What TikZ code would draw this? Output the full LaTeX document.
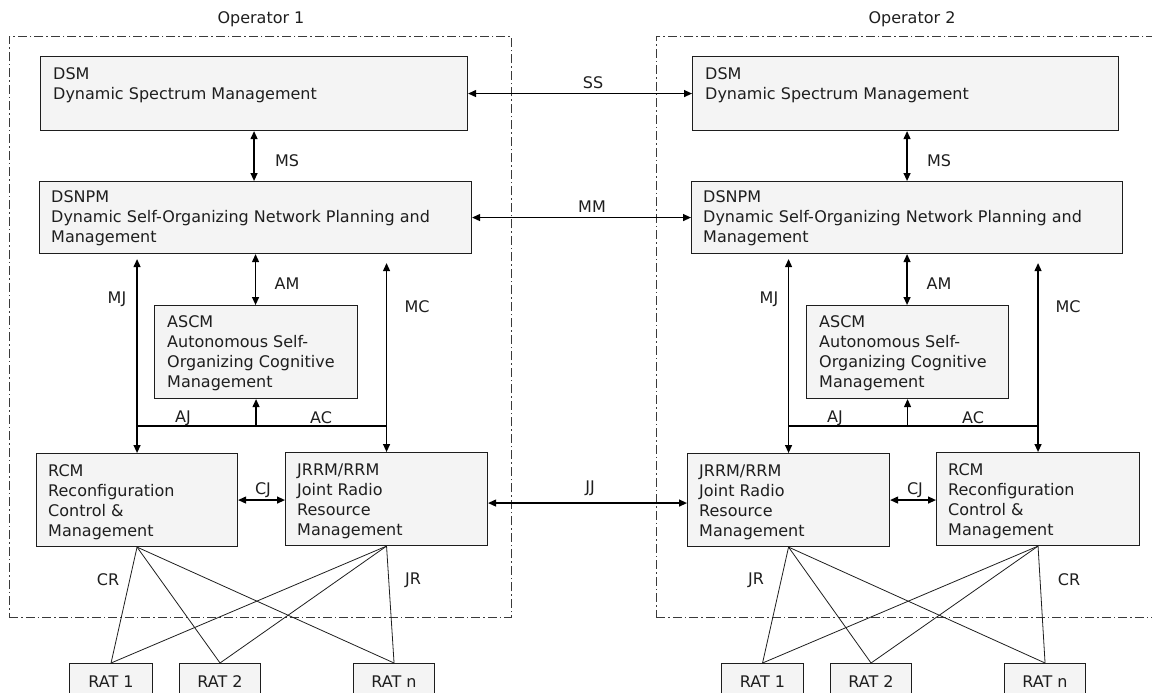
\documentclass[tikz,border=0pt]{standalone}
\usepackage{fontspec}
\setmainfont{DejaVu Sans}
\usetikzlibrary{arrows.meta,calc}
\definecolor{boxfill}{HTML}{F4F4F4}
\definecolor{ink}{HTML}{1E1E1E}
\definecolor{frame}{HTML}{3A3A3A}
\begin{document}
\begin{tikzpicture}[x=1pt,y=-1pt,
  every node/.style={font=\fontsize{16}{20}\selectfont, text=ink},
  box/.style={draw=ink, line width=1.1pt, fill=boxfill, inner sep=0pt, anchor=north west},
  ratbox/.style={box, minimum height=36pt},
  txt/.style={anchor=north west, inner sep=0pt, align=left},
  lab/.style={inner sep=0pt},
  con/.style={draw=black, line width=1.25pt},
  >={Triangle[length=8pt,width=7pt]},
  rl/.style={draw=ink, line width=0.8pt},
  opframe/.style={draw=frame, line width=0.9pt, dash pattern=on 9pt off 3pt on 1.5pt off 3pt, inner sep=0pt, anchor=north west}
]
\useasboundingbox (0,0) rectangle (1152,693);
\clip (0,0) rectangle (1152,693);

% operator frames
\node[opframe, minimum width=502pt, minimum height=581pt] (op1) at (9,36) {};
\node[opframe, minimum width=520pt, minimum height=581pt] (op2) at (656,36) {};
\node[lab] (op1l) at (261,19) {Operator 1};
\node[lab] (op2l) at (912,19) {Operator 2};

% operator 1 boxes
\node[box, minimum width=427pt, minimum height=74pt] (dsm1) at (40,56) {};
\node[box, minimum width=432pt, minimum height=72pt] (dsnpm1) at (39,181) {};
\node[box, minimum width=203pt, minimum height=93pt] (ascm1) at (154,305) {};
\node[box, minimum width=201pt, minimum height=93pt] (rcm1) at (36,453) {};
\node[box, minimum width=202pt, minimum height=93pt] (jrrm1) at (285,452) {};
\node[ratbox, minimum width=83pt] (rat1a) at (69,663) {RAT 1};
\node[ratbox, minimum width=81pt] (rat2a) at (179,663) {RAT 2};
\node[ratbox, minimum width=81pt] (ratna) at (353,663) {RAT n};

% operator 2 boxes
\node[box, minimum width=426pt, minimum height=74pt] (dsm2) at (692,56) {};
\node[box, minimum width=431pt, minimum height=72pt] (dsnpm2) at (691,181) {};
\node[box, minimum width=202pt, minimum height=93pt] (ascm2) at (806,305) {};
\node[box, minimum width=202pt, minimum height=93pt] (jrrm2) at (687,453) {};
\node[box, minimum width=203pt, minimum height=93pt] (rcm2) at (936,452) {};
\node[ratbox, minimum width=82pt] (rat1b) at (721,663) {RAT 1};
\node[ratbox, minimum width=81pt] (rat2b) at (830,663) {RAT 2};
\node[ratbox, minimum width=81pt] (ratnb) at (1004,663) {RAT n};

% box texts
\node[txt] (dsm1t) at ([xshift=13pt,yshift=-9pt]dsm1.north west) {\strut DSM\\Dynamic Spectrum Management};
\node[txt] (dsnpm1t) at ([xshift=12pt,yshift=-7.5pt]dsnpm1.north west) {\strut DSNPM\\Dynamic Self-Organizing Network Planning and\\Management};
\node[txt] (ascm1t) at ([xshift=13pt,yshift=-8.5pt]ascm1.north west) {\strut ASCM\\Autonomous Self-\\Organizing Cognitive\\Management};
\node[txt] (rcm1t) at ([xshift=12pt,yshift=-9.5pt]rcm1.north west) {\strut RCM\\Reconfiguration\\Control \&\\Management};
\node[txt] (jrrm1t) at ([xshift=12pt,yshift=-9.5pt]jrrm1.north west) {\strut JRRM/RRM\\Joint Radio\\Resource\\Management};

\node[txt] (dsm2t) at ([xshift=13pt,yshift=-9pt]dsm2.north west) {\strut DSM\\Dynamic Spectrum Management};
\node[txt] (dsnpm2t) at ([xshift=12pt,yshift=-7.5pt]dsnpm2.north west) {\strut DSNPM\\Dynamic Self-Organizing Network Planning and\\Management};
\node[txt] (ascm2t) at ([xshift=13pt,yshift=-8.5pt]ascm2.north west) {\strut ASCM\\Autonomous Self-\\Organizing Cognitive\\Management};
\node[txt] (jrrm2t) at ([xshift=12pt,yshift=-9.5pt]jrrm2.north west) {\strut JRRM/RRM\\Joint Radio\\Resource\\Management};
\node[txt] (rcm2t) at ([xshift=12pt,yshift=-9.5pt]rcm2.north west) {\strut RCM\\Reconfiguration\\Control \&\\Management};

% inter-operator connectors
\draw[con,<->] (dsm1.east) -- (dsm2.west);
\draw[con,<->] (dsnpm1.east) -- (dsnpm2.west);
\draw[con,<->] ([yshift=-4pt]jrrm1.east) -- ([yshift=-4pt]jrrm1.east -| jrrm2.west);

% operator 1 connectors
\draw[con,<->] (dsm1.south) -- (dsm1.south |- dsnpm1.north);
\draw[con,<->] (dsnpm1.south) -- (dsnpm1.south |- ascm1.north);
\draw[con,<->] (rcm1.north) -- ([yshift=-5pt]rcm1.north |- dsnpm1.south);
\draw[con,<->] (jrrm1.north) -- ([yshift=-9pt]jrrm1.north |- dsnpm1.south);
\coordinate (aj1) at ($(ascm1.south)+(0,27)$);
\draw[con] (rcm1.north |- aj1) -- (jrrm1.north |- aj1);
\draw[con,line width=1.8pt,shorten >=7pt] (rcm1.north |- aj1) -- (rcm1.north);
\draw[con,line width=1.8pt,shorten >=7pt] (jrrm1.north |- aj1) -- (jrrm1.north);
\draw[con,->] (aj1) -- (ascm1.south);
\draw[con,<->] (rcm1.east) -- (rcm1.east -| jrrm1.west);

% operator 2 connectors
\draw[con,<->] (dsnpm2.north) -- (dsnpm2.north |- dsm2.south);
\draw[con,<->] (dsnpm2.south) -- (dsnpm2.south |- ascm2.north);
\draw[con,<->] (jrrm2.north) -- ([yshift=-5pt]jrrm2.north |- dsnpm2.south);
\draw[con,<->] (rcm2.north) -- ([yshift=-9pt]rcm2.north |- dsnpm2.south);
\coordinate (aj2) at ($(ascm2.south)+(0,27)$);
\draw[con] (jrrm2.north |- aj2) -- (rcm2.north |- aj2);
\draw[con,line width=1.8pt,shorten >=7pt] (jrrm2.north |- aj2) -- (jrrm2.north);
\draw[con,line width=1.8pt,shorten >=7pt] (rcm2.north |- aj2) -- (rcm2.north);
\draw[con,->] (aj2) -- (ascm2.south);
\draw[con,<->] (jrrm2.east) -- (jrrm2.east -| rcm2.west);

% RAT links
\foreach \s in {rcm1,jrrm1} \foreach \r in {rat1a,rat2a,ratna} \draw[rl] (\s.south) -- (\r.north);
\foreach \s in {jrrm2,rcm2} \foreach \r in {rat1b,rat2b,ratnb} \draw[rl] (\s.south) -- (\r.north);

% labels
\node[lab] (lss) at (593,83) {SS};
\node[lab] (lmm) at (592,207) {MM};
\node[lab] (ljj) at (590,488) {JJ};
\node[lab] (lms1) at (287,161) {MS};
\node[lab] (lam1) at (287,284) {AM};
\node[lab] (lmj1) at (117,299) {MJ};
\node[lab] (lmc1) at (417,307) {MC};
\node[lab] (laj1) at (183,418) {AJ};
\node[lab] (lac1) at (321,418) {AC};
\node[lab] (lcj1) at (263,490) {CJ};
\node[lab] (lcr1) at (108,580) {CR};
\node[lab] (ljr1) at (413,580) {JR};
\node[lab] (lms2) at (939,161) {MS};
\node[lab] (lam2) at (939,284) {AM};
\node[lab] (lmj2) at (769,299) {MJ};
\node[lab] (lmc2) at (1068,307) {MC};
\node[lab] (laj2) at (835,418) {AJ};
\node[lab] (lac2) at (973,418) {AC};
\node[lab] (lcj2) at (915,490) {CJ};
\node[lab] (ljr2) at (756,580) {JR};
\node[lab] (lcr2) at (1069,580) {CR};
\end{tikzpicture}
\end{document}
